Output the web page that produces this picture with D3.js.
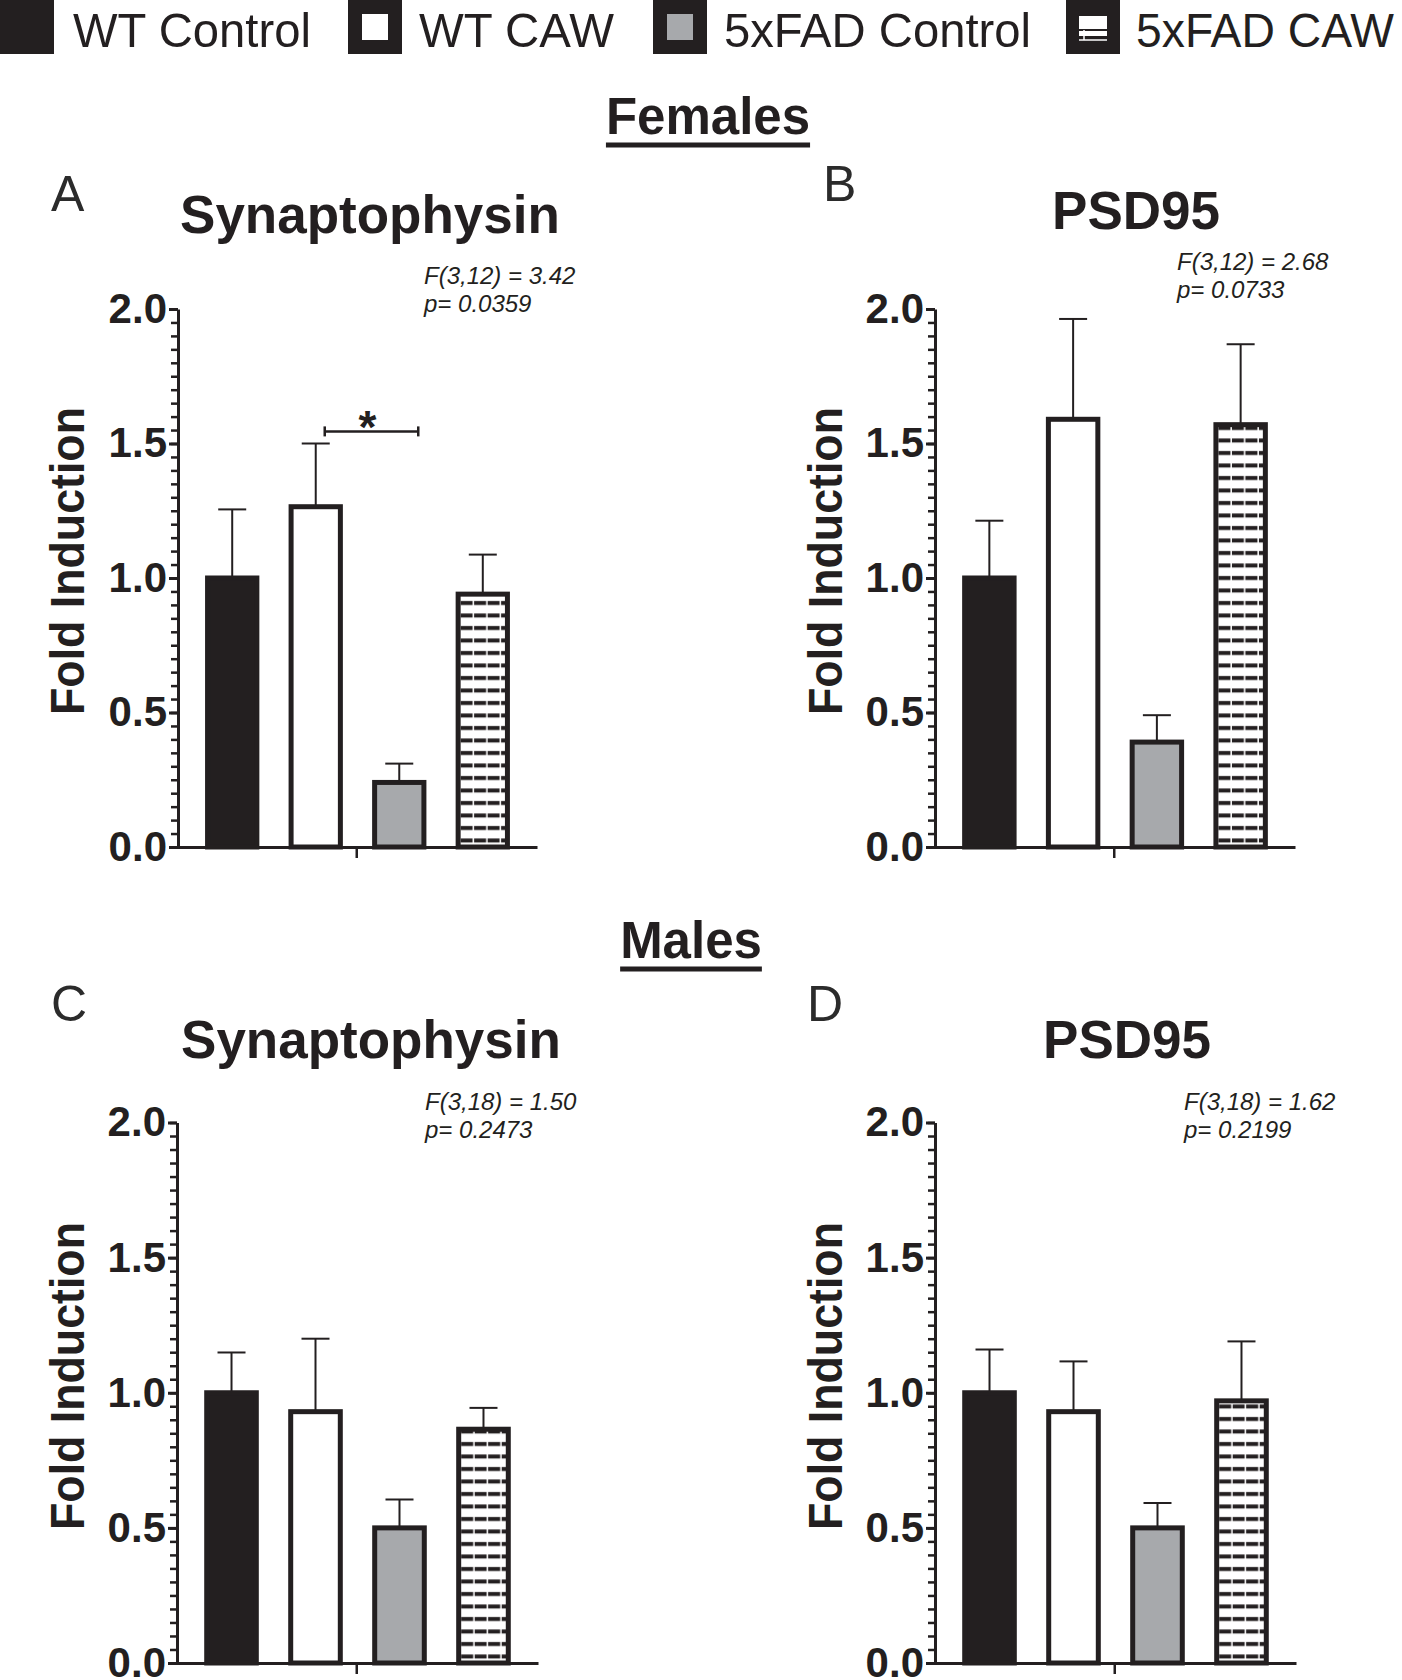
<!DOCTYPE html>
<html><head><meta charset="utf-8">
<script src="https://cdn.jsdelivr.net/npm/d3@7"></script>
<style>
body{margin:0;background:#fff}
svg{display:block}
text{font-family:"Liberation Sans", Arial, Helvetica, sans-serif}
</style>
</head><body>
<svg id="c" width="1402" height="1680"></svg>
<script>
// ---------------- DATA ----------------
const groups = ["WT Control", "WT CAW", "5xFAD Control", "5xFAD CAW"];
const femSynMean = [1.00, 1.265, 0.24, 0.94];
const femSynSem  = [0.255, 0.235, 0.07, 0.147];
const femPsdMean = [1.00, 1.59, 0.39, 1.57];
const femPsdSem  = [0.213, 0.373, 0.10, 0.299];
const maleSynMean = [1.00, 0.93, 0.50, 0.865];
const maleSynSem  = [0.149, 0.27, 0.105, 0.079];
const malePsdMean = [1.00, 0.93, 0.50, 0.97];
const malePsdSem  = [0.16, 0.186, 0.092, 0.22];
const yMajorTicks = [0.0, 0.5, 1.0, 1.5, 2.0];
const yMinorStep = 0.05;
const yDomain = [0, 2.0];
const yAxisTitle = "Fold Induction";
const sectionTitles = ["Females", "Males"];
const panelLetters = ["A", "B", "C", "D"];
const panelTitles = ["Synaptophysin", "PSD95", "Synaptophysin", "PSD95"];
const statsA = ["F(3,12) = 3.42", "p= 0.0359"];
const statsB = ["F(3,12) = 2.68", "p= 0.0733"];
const statsC = ["F(3,18) = 1.50", "p= 0.2473"];
const statsD = ["F(3,18) = 1.62", "p= 0.2199"];
const sigA = {from: "WT CAW", to: "5xFAD Control", y: 1.545, label: "*"};

// ---------------- STYLE ----------------
const INK = "#231f20";
const GREY = "#a7a9ac";
const fills = {"WT Control": INK, "WT CAW": "#ffffff", "5xFAD Control": GREY, "5xFAD CAW": "hatch"};

const svg = d3.select("#c");
const defs = svg.append("defs");

// ---------------- LEGEND ----------------
const legendLayout = [
  {sq: 0, tx: 73, tw: 238},
  {sq: 348, tx: 419, tw: 195},
  {sq: 653, tx: 724, tw: 307},
  {sq: 1066, tx: 1136, tw: 258}
];
const lg = svg.append("g");
groups.forEach((g, i) => {
  const L = legendLayout[i];
  lg.append("rect").attr("x", L.sq).attr("y", 0).attr("width", 54).attr("height", 54).attr("fill", INK);
  if (i === 1) lg.append("rect").attr("x", L.sq + 14).attr("y", 14).attr("width", 26).attr("height", 26).attr("fill", "#fff");
  if (i === 2) lg.append("rect").attr("x", L.sq + 14).attr("y", 14).attr("width", 26).attr("height", 26).attr("fill", GREY);
  if (i === 3) {
    lg.append("rect").attr("x", L.sq + 13).attr("y", 16).attr("width", 28).attr("height", 20).attr("fill", "#fff");
    lg.append("line").attr("x1", L.sq + 13).attr("x2", L.sq + 41).attr("y1", 30).attr("y2", 30).attr("stroke", INK).attr("stroke-width", 2);
    lg.append("line").attr("x1", L.sq + 18).attr("x2", L.sq + 18).attr("y1", 30).attr("y2", 40).attr("stroke", "#fff").attr("stroke-width", 1.5);
    lg.append("line").attr("x1", L.sq + 13).attr("x2", L.sq + 41).attr("y1", 40).attr("y2", 40).attr("stroke", "#fff").attr("stroke-width", 1.5);
  }
  lg.append("text").attr("x", L.tx).attr("y", 47).attr("font-size", 49).attr("fill", INK)
    .attr("textLength", L.tw).attr("lengthAdjust", "spacingAndGlyphs").text(g);
});

// ---------------- SECTION TITLES ----------------
const sectionLayout = [{x: 708, y: 134, uy: 145}, {x: 691, y: 958, uy: 969}];
sectionTitles.forEach((t, i) => {
  const S = sectionLayout[i];
  const tx = svg.append("text").attr("x", S.x).attr("y", S.y).attr("text-anchor", "middle")
    .attr("font-size", 51).attr("font-weight", "bold").attr("fill", INK).text(t);
  const w = tx.node().getComputedTextLength();
  svg.append("line").attr("x1", S.x - w / 2).attr("x2", S.x + w / 2).attr("y1", S.uy).attr("y2", S.uy)
    .attr("stroke", INK).attr("stroke-width", 5);
});

// ---------------- PANELS ----------------
const panels = [
  {mean: femSynMean, sem: femSynSem, stats: statsA, sig: sigA, x0: 178, x1: 537, yT: 309, yB: 847,
   letter: [51, 211], title: [370, 233], statPos: [424, 284], yTitle: [84, 561]},
  {mean: femPsdMean, sem: femPsdSem, stats: statsB, sig: null, x0: 935, x1: 1295, yT: 309, yB: 847,
   letter: [823, 201], title: [1136, 229], statPos: [1177, 270], yTitle: [842, 561]},
  {mean: maleSynMean, sem: maleSynSem, stats: statsC, sig: null, x0: 177, x1: 538, yT: 1122.5, yB: 1663,
   letter: [51, 1021], title: [371, 1058], statPos: [425, 1110], yTitle: [84, 1376]},
  {mean: malePsdMean, sem: malePsdSem, stats: statsD, sig: null, x0: 935, x1: 1296, yT: 1122.5, yB: 1663,
   letter: [807, 1021], title: [1127, 1058], statPos: [1184, 1110], yTitle: [842, 1376]}
];

const SW = 5; // bar stroke width

panels.forEach((P, pi) => {
  const g = svg.append("g");
  const y = d3.scaleLinear().domain(yDomain).range([P.yB, P.yT]);
  const x = d3.scaleBand().domain(groups).range([P.x0, P.x1]).paddingInner(0.35).paddingOuter(0.324);
  const bw = x.bandwidth();

  // panel letter
  g.append("text").attr("x", P.letter[0]).attr("y", P.letter[1]).attr("font-size", 50).attr("fill", "#2b2b2b").text(panelLetters[pi]);
  // title
  g.append("text").attr("x", P.title[0]).attr("y", P.title[1]).attr("text-anchor", "middle")
    .attr("font-size", 53).attr("font-weight", "bold").attr("fill", INK).text(panelTitles[pi]);
  // stats
  P.stats.forEach((s, k) => {
    g.append("text").attr("x", P.statPos[0]).attr("y", P.statPos[1] + k * 28)
      .attr("font-size", 24).attr("font-style", "italic").attr("fill", INK).text(s);
  });
  // y title
  g.append("text").attr("transform", `translate(${P.yTitle[0]},${P.yTitle[1]}) rotate(-90)`)
    .attr("text-anchor", "middle").attr("font-size", 49).attr("font-weight", "bold").attr("fill", INK)
    .attr("textLength", 308).attr("lengthAdjust", "spacingAndGlyphs").text(yAxisTitle);

  // hatch pattern for this panel
  const hx = x("5xFAD CAW") + SW;
  const pat = defs.append("pattern").attr("id", "hatch" + pi).attr("patternUnits", "userSpaceOnUse")
    .attr("x", hx).attr("y", P.yB).attr("width", 13.5).attr("height", 12.5);
  pat.append("rect").attr("width", 13.5).attr("height", 12.5).attr("fill", "#fff");
  pat.append("rect").attr("x", 0).attr("y", 4).attr("width", 12).attr("height", 4).attr("fill", INK);

  const data = groups.map((k, i) => ({k, v: P.mean[i], e: P.sem[i]}));

  // error bars (upper only)
  const eb = g.append("g").attr("stroke", INK).attr("stroke-width", 2);
  data.forEach(d => {
    const cx = x(d.k) + bw / 2;
    eb.append("line").attr("x1", cx).attr("x2", cx).attr("y1", y(d.v)).attr("y2", y(d.v + d.e));
    eb.append("line").attr("x1", cx - 14).attr("x2", cx + 14).attr("y1", y(d.v + d.e)).attr("y2", y(d.v + d.e));
  });

  // bars
  g.append("g").selectAll("rect").data(data).join("rect")
    .attr("x", d => x(d.k) + SW / 2)
    .attr("width", bw - SW)
    .attr("y", d => y(d.v))
    .attr("height", d => y(0) - y(d.v))
    .attr("fill", d => fills[d.k] === "hatch" ? `url(#hatch${pi})` : fills[d.k])
    .attr("stroke", INK).attr("stroke-width", SW);

  // y axis minor ticks
  const minor = d3.range(0, yDomain[1] + 1e-9, yMinorStep);
  const ym = g.append("g").attr("transform", `translate(${P.x0},0)`)
    .call(d3.axisLeft(y).tickValues(minor).tickSize(7).tickFormat(""));
  ym.select(".domain").remove();
  ym.selectAll(".tick line").attr("stroke", INK).attr("stroke-width", 2.5);

  // y axis major
  const ya = g.append("g").attr("transform", `translate(${P.x0},0)`)
    .call(d3.axisLeft(y).tickValues(yMajorTicks).tickSize(9).tickSizeOuter(0).tickPadding(2).tickFormat(d3.format(".1f")));
  ya.select(".domain").attr("stroke", INK).attr("stroke-width", 3);
  ya.selectAll(".tick line").attr("stroke", INK).attr("stroke-width", 3);
  ya.selectAll(".tick text").attr("font-size", 42).attr("font-weight", "bold").attr("fill", INK)
    .attr("font-family", '"Liberation Sans", Arial, sans-serif');

  // x axis: single centred tick
  const xo = d3.scaleBand().domain([""]).range([P.x0 - 1.5, P.x1]);
  const xa = g.append("g").attr("transform", `translate(0,${P.yB})`)
    .call(d3.axisBottom(xo).tickSize(11).tickSizeOuter(0).tickFormat(""));
  xa.select(".domain").attr("stroke", INK).attr("stroke-width", 3);
  xa.selectAll(".tick line").attr("stroke", INK).attr("stroke-width", 2.5);

  // significance bracket
  if (P.sig) {
    const xl = x(P.sig.from) + bw / 2 + 9;
    const xr = x(P.sig.to) + bw / 2 + 19;
    const yy = y(P.sig.y);
    const sg = g.append("g").attr("stroke", INK).attr("stroke-width", 2.5);
    sg.append("line").attr("x1", xl).attr("x2", xr).attr("y1", yy).attr("y2", yy);
    sg.append("line").attr("x1", xl).attr("x2", xl).attr("y1", yy - 5).attr("y2", yy + 5);
    sg.append("line").attr("x1", xr).attr("x2", xr).attr("y1", yy - 5).attr("y2", yy + 5);
    g.append("text").attr("x", (xl + xr) / 2 - 4).attr("y", yy + 12).attr("text-anchor", "middle")
      .attr("font-size", 46).attr("font-weight", "bold").attr("fill", INK).text(P.sig.label);
  }
});
</script>
</body></html>
